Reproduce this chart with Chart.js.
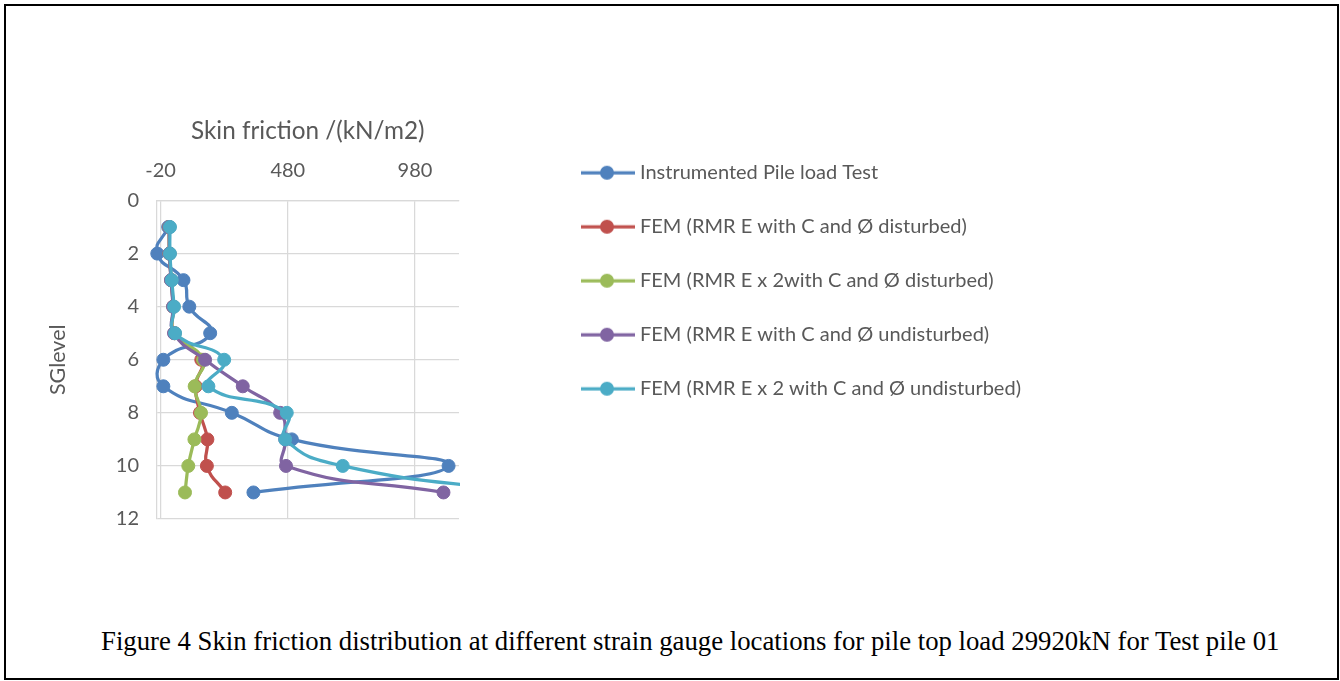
<!DOCTYPE html>
<html>
<head>
<meta charset="utf-8">
<script src="https://cdn.jsdelivr.net/npm/chart.js@4/dist/chart.umd.min.js"></script>
<style>
    body { margin: 0; background: #ffffff; }
    #frame {
        position: absolute; left: 4px; top: 3.5px; width: 1335px; height: 676px;
        box-sizing: border-box; border: 2px solid #000000;
    }
    #chartBox { position: absolute; left: 0; top: 0; width: 1340px; height: 560px; }
    #caption {
        position: absolute; left: 101px; top: 627.5px; white-space: nowrap;
        font-family: "Liberation Serif", "Times New Roman", serif; font-size: 26.75px;
        line-height: 1; color: #000000;
    }
</style>
</head>
<body>
<div id="frame"></div>
<div id="chartBox"><canvas id="frictionChart" width="1340" height="560"></canvas></div>
<div id="caption">Figure 4 Skin friction distribution at different strain gauge locations for pile top load 29920kN for Test pile 01</div>
<script>
//<![CDATA[

let sgLevels = [1, 2, 3, 4, 5, 6, 7, 8, 9, 10, 11];
let seriesLabels = [
    'Instrumented Pile load Test',
    'FEM (RMR E with C and \u00D8 disturbed)',
    'FEM (RMR E x 2with C and \u00D8 disturbed)',
    'FEM (RMR E with C and \u00D8 undisturbed)',
    'FEM (RMR E x 2 with C and \u00D8 undisturbed)'
];
let pileLoadTest = [10, -33, 70, 93, 175, -9, -9, 260, 496, 1112, 345];
let femDisturbed = [14, 15, 22, 30, 35, 140, 118, 135, 164, 162, 234];
let femE2Disturbed = [14, 15, 22, 30, 35, 147, 114, 139, 113, 89, 76];
let femUndisturbed = [14, 15, 21, 29, 33, 155, 303, 450, 470, 473, 1092];
let femE2Undisturbed = [17, 17, 24, 33, 37, 230, 168, 476, 470, 696, 1420];
let xTickValues = [-20, 480, 980];
let seriesColors = ['#4F81BD', '#C0504D', '#9BBB59', '#8064A2', '#4BACC6'];

const textColor = '#595959';
const gridColor = '#d9d9d9';
const fontName = 'Lato';
const legendFont = '20px Lato';
const legendPadding = 34;
const legendBoxWidth = 48;
const legendLeft = 548;

function toPoints(values) {
    return sgLevels.map(function(level, i) {
        return { x: values[i], y: level };
    });
}

// small line + dot symbol used for the legend entries
let iconCache = {};
function legendIcon(color) {
    if (iconCache[color]) {
        return iconCache[color];
    }
    let c = document.createElement('canvas');
    c.width = 58;
    c.height = 16;
    let g = c.getContext('2d');
    g.strokeStyle = color;
    g.lineWidth = 3.25;
    g.beginPath();
    g.moveTo(4, 8);
    g.lineTo(58, 8);
    g.stroke();
    g.fillStyle = color;
    g.beginPath();
    g.arc(30, 8, 7, 0, Math.PI * 2);
    g.fill();
    iconCache[color] = c;
    return c;
}

// legend width follows its longest label, so the right padding is worked out from it
function rightPadding() {
    let g = document.createElement('canvas').getContext('2d');
    g.font = legendFont;
    let widest = 0;
    seriesLabels.forEach(function(t) {
        widest = Math.max(widest, g.measureText(t).width);
    });
    let legendWidth = legendPadding + legendBoxWidth + 10 + widest + 10;
    return 1340 - legendLeft - legendWidth;
}

let allSeries = [pileLoadTest, femDisturbed, femE2Disturbed, femUndisturbed, femE2Undisturbed];
let datasets = allSeries.map(function(values, i) {
    return {
        label: seriesLabels[i],
        data: toPoints(values),
        showLine: true,
        tension: 0.5,
        borderColor: seriesColors[i],
        backgroundColor: seriesColors[i],
        borderWidth: 3.25,
        pointRadius: 6.5,
        pointBorderWidth: 1,
        pointBorderColor: seriesColors[i],
        pointBackgroundColor: seriesColors[i],
        order: allSeries.length - i,
        clip: { left: 12, top: 12, right: 1, bottom: 12 }
    };
});

const chart = new Chart(document.getElementById('frictionChart'), {
    type: 'scatter',
    data: { datasets: datasets },
    options: {
        responsive: false,
        animation: false,
        devicePixelRatio: 1,
        layout: {
            padding: { left: 30, top: 100, right: rightPadding(), bottom: 41 }
        },
        elements: {
            line: { capBezierPoints: false }
        },
        scales: {
            x: {
                type: 'linear',
                position: 'top',
                min: -36,
                max: 1153,
                afterBuildTicks: function(scale) {
                    scale.ticks = xTickValues.map(function(v) { return { value: v }; });
                },
                afterFit: function(scale) {
                    scale.height = 100.5;
                },
                grid: { color: gridColor, lineWidth: 1.25, drawTicks: false },
                border: { display: true, color: gridColor, width: 1.25 },
                ticks: { font: { family: fontName, size: 20 }, color: textColor, padding: 18 },
                title: {
                    display: true,
                    text: 'Skin friction /(kN/m2)',
                    font: { family: fontName, size: 24.3 },
                    color: textColor,
                    padding: { top: 16.5, bottom: 0 }
                }
            },
            y: {
                type: 'linear',
                position: 'left',
                reverse: true,
                min: 0,
                max: 12,
                afterFit: function(scale) {
                    scale.width = 126.5;
                },
                grid: { color: gridColor, lineWidth: 1.25, drawTicks: false },
                border: { display: true, color: gridColor, width: 1.25 },
                ticks: { stepSize: 2, font: { family: fontName, size: 20 }, color: textColor, padding: 17.5 },
                title: {
                    display: true,
                    text: 'SGlevel',
                    font: { family: fontName, size: 21.5 },
                    color: textColor,
                    padding: { top: 15.1, bottom: 0 }
                }
            },
            // empty axis, only keeps the gap between plot and legend
            gap: {
                type: 'linear',
                position: 'right',
                display: true,
                afterFit: function(scale) {
                    scale.width = 89;
                },
                grid: { display: false, drawTicks: false },
                border: { display: false },
                ticks: { display: false }
            }
        },
        plugins: {
            tooltip: { enabled: false },
            legend: {
                position: 'right',
                align: 'start',
                maxWidth: 800,
                title: {
                    display: true,
                    text: ' ',
                    font: { size: 10, lineHeight: 1 },
                    padding: { top: 18.7, bottom: 0 }
                },
                labels: {
                    usePointStyle: true,
                    pointStyleWidth: legendBoxWidth,
                    padding: legendPadding,
                    font: { family: fontName, size: 20 },
                    color: textColor,
                    generateLabels: function(chart) {
                        return chart.data.datasets.map(function(ds, i) {
                            return {
                                text: ds.label,
                                fillStyle: ds.borderColor,
                                strokeStyle: ds.borderColor,
                                lineWidth: 0,
                                pointStyle: legendIcon(ds.borderColor),
                                fontColor: textColor,
                                hidden: !chart.isDatasetVisible(i),
                                datasetIndex: i
                            };
                        });
                    }
                }
            }
        }
    }
});

// ]]>
</script>
</body>
</html>
